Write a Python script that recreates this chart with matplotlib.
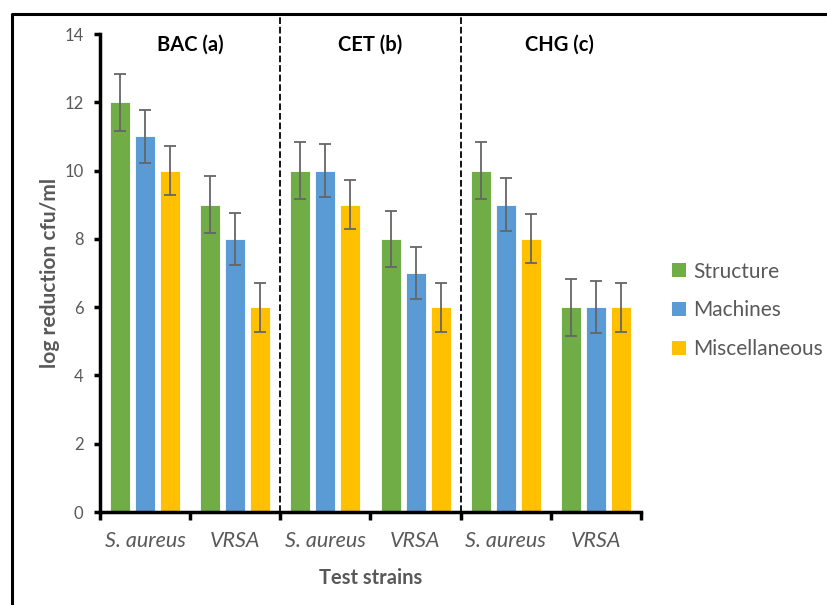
import numpy as np
import matplotlib.pyplot as plt
from matplotlib.patches import Patch
from matplotlib.lines import Line2D

plt.rcParams["font.family"] = ["Lato", "DejaVu Sans"]

strains = ["S. aureus", "VRSA", "S. aureus", "VRSA", "S. aureus", "VRSA"]
panels = ["BAC (a)", "CET (b)", "CHG (c)"]
series = ["Structure", "Machines", "Miscellaneous"]

structure = [12, 9, 10, 8, 10, 6]
machines = [11, 8, 10, 7, 9, 6]
misc = [10, 6, 9, 6, 8, 6]
errors = [0.83, 0.77, 0.72]

colors = ["#70AD47", "#5B9BD5", "#FFC000"]
grey = "#595959"

fig = plt.figure(figsize=(8.27, 6.05), dpi=100)
ax = fig.add_axes([0.121, 0.1537, 0.654, 0.79])

x = np.arange(len(strains))
width = 0.222
step = 0.278
for i, (vals, col, err) in enumerate(zip([structure, machines, misc], colors, errors)):
    ax.bar(x + (i - 1) * step, vals, width, color=col, edgecolor="white",
           linewidth=0.6, label=series[i],
           yerr=err, error_kw=dict(ecolor="#666666", elinewidth=1.3,
                                   capsize=4, capthick=1.3))

ax.set_xlim(-0.5, 5.5)
ax.set_ylim(0, 14)
ax.set_yticks(range(0, 15, 2))
ax.set_xticks(x)
ax.set_xticklabels(strains, fontstyle="italic", fontsize=15.5, color=grey)
ax.set_xticks(np.arange(-0.5, 6, 1), minor=True)
ax.tick_params(axis="x", which="major", length=0, pad=14)
ax.tick_params(axis="x", which="minor", length=6, width=2.5, direction="out")
ax.tick_params(axis="y", length=4, width=2.5, direction="out", labelsize=12,
               labelcolor=grey, pad=8)

for side in ["top", "right"]:
    ax.spines[side].set_visible(False)
for side in ["left", "bottom"]:
    ax.spines[side].set_linewidth(2.5)
    ax.spines[side].set_color("black")

# panel separators run up to the outer frame
for sep in [1.5, 3.5]:
    ax.axvline(sep, ymin=0, ymax=1.044, color="black", linestyle="--",
               linewidth=1.3, clip_on=False)

for px, name in zip([0.5, 2.5, 4.6], panels):
    ax.text(px, 13.68, name, ha="center", va="center", fontsize=14.5,
            fontweight="bold", color="black")

ax.set_ylabel("log reduction cfu/ml", fontsize=15, fontweight="bold",
              color=grey, labelpad=3)
ax.set_xlabel("Test strains", fontsize=14.5, fontweight="bold", color=grey,
              labelpad=12)

handles = [Patch(facecolor=c, label=s) for c, s in zip(colors, series)]
fig.legend(handles=handles, loc="center left", bbox_to_anchor=(0.79, 0.487),
           frameon=False, fontsize=15, handlelength=0.65, handleheight=0.65,
           handletextpad=0.35, labelspacing=0.9, labelcolor=grey)

# outer frame line on the left and top
fx = 12 / 827
fy = 1 - 14 / 605
fig.add_artist(Line2D([fx, fx, 1.01], [-0.01, fy, fy], color="black",
                      linewidth=2.2, transform=fig.transFigure))

fig.savefig("out.png", dpi=100)
